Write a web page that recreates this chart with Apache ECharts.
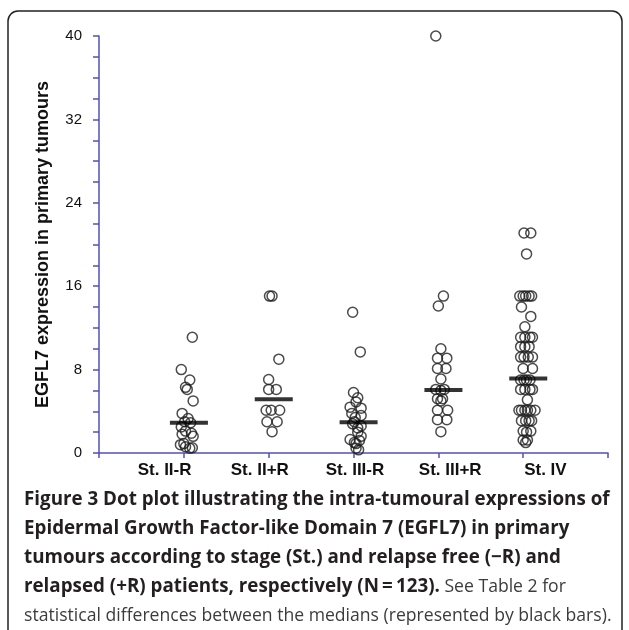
<!DOCTYPE html>
<html lang="en">
<head>
<meta charset="UTF-8">
<script src="https://cdn.jsdelivr.net/npm/echarts@6/dist/echarts.min.js"></script>
<title>EGFL7 dot plot</title>
<style>
  html, body { margin: 0; padding: 0; background: #fff; }
  #chart { width: 629px; height: 630px; }
</style>
</head>
<body>
<div id="chart"></div>
<script type="text/javascript">
// categories along the x axis
var categories = ['St. II-R', 'St. II+R', 'St. III-R', 'St. III+R', 'St. IV'];

// EGFL7 expression, one array per group
var stIIneg  = [11.1, 8.0, 7.0, 6.3, 6.1, 5.0, 3.8, 3.3, 3.0, 2.9, 2.5, 2.1, 1.9, 1.8, 1.6, 0.9, 0.8, 0.6, 0.45, 0.5];
var stIIpos  = [15.05, 15.05, 9.0, 7.05, 6.1, 6.1, 4.1, 4.1, 4.1, 3.0, 3.0, 2.05];
var stIIIneg = [13.5, 9.7, 5.8, 5.3, 4.9, 4.4, 4.3, 3.8, 3.6, 3.4, 3.0, 2.8, 2.6, 2.4, 2.0, 1.6, 1.3, 1.2, 1.0, 0.9, 0.45, 0.3];
var stIIIpos = [40, 15.05, 14.1, 10.0, 9.1, 9.1, 8.1, 8.1, 7.1, 6.1, 6.1, 6.0, 5.2, 5.2, 5.0, 4.1, 4.1, 3.2, 3.2, 2.05];
var stIV     = [21.1, 21.1, 19.1, 15.05, 15.05, 15.05, 15.05, 15.05, 14.0, 13.1, 12.1,
                11.1, 11.1, 11.1, 11.1, 10.2, 10.2, 10.2, 9.2, 9.2, 9.2, 9.2, 8.1, 8.1,
                7.0, 7.0, 7.0, 7.0, 6.1, 6.1, 6.1, 6.1, 5.1,
                4.1, 4.1, 4.1, 4.1, 4.1, 4.1, 3.1, 3.1, 3.1, 3.1, 2.1, 2.1, 2.0, 1.25, 1.25, 1.0];

// horizontal spread of the dots around each category (category units)
var stIInegJit  = [0.10, -0.03, 0.07, 0.02, 0.04, 0.11, -0.02, 0.05, 0.01, 0.08, -0.03, 0.02, 0.09, -0.02, 0.11, 0.0, -0.04, 0.02, 0.07, 0.10];
var stIIposJit  = [0.01, 0.04, 0.12, 0.0, 0.0, 0.09, -0.03, 0.03, 0.13, -0.02, 0.10, 0.04];
var stIIInegJit = [-0.01, 0.08, 0.0, 0.05, 0.03, -0.04, 0.09, -0.02, 0.09, 0.02, 0.01, -0.01, 0.09, 0.05, 0.05, 0.09, -0.04, 0.07, 0.01, 0.03, 0.03, 0.06];
var stIIIposJit = [-0.03, 0.06, 0.0, 0.03, -0.01, 0.10, -0.01, 0.09, 0.03, -0.03, 0.07, 0.03, -0.01, 0.05, 0.03, -0.01, 0.11, -0.01, 0.10, 0.03];
var stIVJit     = [0.01, 0.09, 0.04, -0.04, 0.0, 0.03, 0.07, 0.10, -0.02, 0.09, 0.02,
                   -0.03, 0.02, 0.08, 0.11, -0.03, 0.02, 0.07, -0.03, 0.01, 0.06, 0.11, 0.0, 0.11,
                   -0.03, 0.01, 0.04, 0.08, -0.03, 0.02, 0.08, 0.11, 0.05,
                   -0.05, -0.02, 0.02, 0.05, 0.09, 0.14, -0.02, 0.03, 0.07, 0.10, 0.0, 0.09, 0.04, 0.0, 0.05, 0.03];

// medians (black bars)
var medians = [2.9, 5.15, 2.95, 6.05, 7.15];

var groups = [stIIneg, stIIpos, stIIIneg, stIIIpos, stIV];
var jitters = [stIInegJit, stIIposJit, stIIInegJit, stIIIposJit, stIVJit];

var axisBlue = '#5151b8';

var dots = [];
groups.forEach(function (vals, g) {
    vals.forEach(function (v, i) {
        dots.push([g + 1 + jitters[g][i], v]);
    });
});
var bars = medians.map(function (m, g) { return [g + 1.06, m]; });

var myChart = echarts.init(document.getElementById('chart'));

var option = {
    animation: false,
    backgroundColor: '#fff',
    grid: [
        { left: 99, top: 36, width: 509, height: 417 },
        // label strip for the category names
        { left: 117, top: 36, width: 476, height: 417 }
    ],
    xAxis: [
        {
            type: 'value', gridIndex: 0, min: 0, max: 6, interval: 1,
            axisLine: { show: true, lineStyle: { color: axisBlue, width: 1.5 } },
            axisTick: { show: true, length: 5, lineStyle: { color: axisBlue, width: 1.5 } },
            axisLabel: { show: false },
            splitLine: { show: false }
        },
        {
            type: 'category', gridIndex: 1, data: categories,
            axisLine: { show: false }, axisTick: { show: false },
            axisLabel: {
                margin: 9, color: '#111',
                fontFamily: 'Liberation Sans', fontWeight: 'bold', fontSize: 17
            }
        }
    ],
    yAxis: [
        {
            type: 'value', gridIndex: 0, min: 0, max: 40, interval: 8,
            name: 'EGFL7 expression in primary tumours',
            nameLocation: 'middle', nameGap: 47, nameRotate: 90,
            nameTextStyle: { fontFamily: 'Liberation Sans', fontWeight: 'bold', fontSize: 18, color: '#111' },
            axisLine: { show: true, lineStyle: { color: axisBlue, width: 1.5 } },
            axisTick: { show: true, length: 6, lineStyle: { color: axisBlue, width: 1.5 } },
            minorTick: { show: true, splitNumber: 4, length: 6, lineStyle: { color: axisBlue, width: 1.5 } },
            axisLabel: { margin: 17, color: '#111', fontFamily: 'Liberation Sans', fontSize: 15 },
            splitLine: { show: false }
        },
        { type: 'value', gridIndex: 1, show: false }
    ],
    series: [
        {
            type: 'scatter', xAxisIndex: 0, yAxisIndex: 0,
            symbol: 'circle', symbolSize: 10,
            itemStyle: { color: 'rgba(255,255,255,0)', borderColor: '#1e1e1e', borderWidth: 1.5 },
            data: dots, z: 3
        },
        {
            type: 'scatter', xAxisIndex: 0, yAxisIndex: 0,
            symbol: 'rect', symbolSize: [38, 4],
            itemStyle: { color: '#000' },
            data: bars, z: 4
        }
    ],
    graphic: [
        {
            type: 'rect', z: 0,
            shape: { x: 8, y: 11, width: 614, height: 680, r: 10 },
            style: { fill: 'none', stroke: '#222', lineWidth: 1.5 }
        },
        {
            type: 'text', left: 24, top: 490,
            style: {
                text: [
                    '{b|Figure 3 Dot plot illustrating the intra-tumoural expressions of}',
                    '{b|Epidermal Growth Factor-like Domain 7 (EGFL7) in primary}',
                    '{b|tumours according to stage (St.) and relapse free (\u2212R) and}',
                    '{b|relapsed (+R) patients, respectively (N\u2009=\u2009123).}{r| See Table 2 for}',
                    '{r|statistical differences between the medians (represented by black bars).}'
                ].join('\n'),
                rich: {
                    b: { fontFamily: 'Open Sans', fontWeight: 'bold', fontSize: 18.8, lineHeight: 29.2, fill: '#231f20' },
                    r: { fontFamily: 'Open Sans', fontWeight: 'normal', fontSize: 17.6, lineHeight: 29.2, fill: '#3c3c3c' }
                }
            }
        }
    ]
};

myChart.setOption(option);
</script>
</body>
</html>
